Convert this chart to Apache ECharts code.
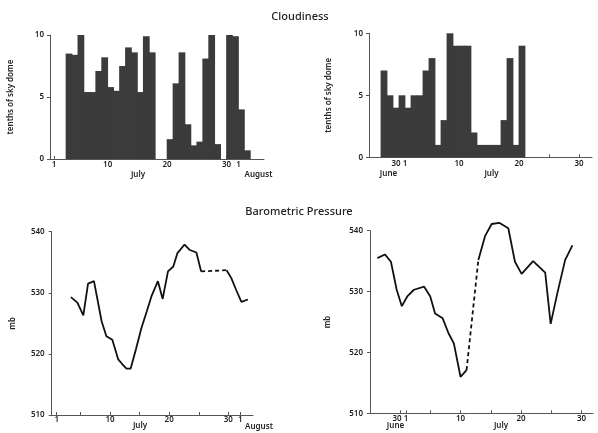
<!DOCTYPE html>
<html><head><meta charset="utf-8">
<script src="https://cdn.jsdelivr.net/npm/echarts@6/dist/echarts.min.js"></script>
<style>html,body{margin:0;padding:0;background:#fff}#c{width:598px;height:433px}</style>
</head><body><div id="c"></div>
<script>
// ---- data (x = day of July; June 30 = 0, June 29 = -1 ...; August 1 = 32) ----
const cloudLeftDays   = [3,4,5,6,7,8,9,10,11,12,13,14,15,16,17, 20,21,22,23,24,25,26,27,28, 30,31,32,33];
const cloudLeftValues = [8.5,8.4,10,5.4,5.4,7.1,8.2,5.8,5.5,7.5,9.0,8.6,5.4,9.9,8.6, 1.6,6.1,8.6,2.8,1.1,1.4,8.1,10,1.2, 10,9.9,4.0,0.7];
const cloudRightDays   = [-3,-2,-1,0,1,2,3,4,5,6,7,8,9,10,11,12,13,14,15,16,17,18,19,20];
const cloudRightValues = [7,5,4,5,4,5,5,7,8,1,3,10,9,9,9,2,1,1,1,1,3,8,1,9];

const pressLeftDays   = [3.4,4.5,5.5,6.3,7.3,8.6,9.4,10.4,11.4,12.1,12.8,13.5,14.4,15.3,16.2,17.0,18.1,18.9,19.8,20.7,21.4,22.6,23.5,24.6,25.4,29.7,30.5,31.3,32.2,33.3];
const pressLeftValues = [529.3,528.4,526.3,531.5,531.9,525.3,522.9,522.3,519.1,518.3,517.6,517.6,520.8,524.2,526.9,529.4,531.9,529.0,533.5,534.3,536.5,537.9,537.0,536.6,533.5,533.7,532.4,530.5,528.5,528.9];
const pressLeftDashStart = 24;   // dashed segment from this point to the next
const pressRightDays   = [-3.75,-2.5,-1.5,-0.55,0.3,1.2,2.3,4.0,5.0,5.8,7.05,8.0,8.9,10.0,11.0,12.95,14.05,15.15,16.4,17.9,19.0,20.1,22.0,24.0,24.9,26.0,27.3,28.5];
const pressRightValues = [535.5,536.1,534.9,530.3,527.6,529.2,530.3,530.8,529.2,526.4,525.6,523.2,521.5,516.0,517.1,535.2,539.1,541.1,541.3,540.4,534.9,532.9,535.0,533.1,524.7,529.7,535.2,537.6];
const pressRightDashStart = 14;

const leftTickDays   = [1,5,10,15,20,25,30,32];
const leftLabelDays  = [1,10,20,30,32];
const leftLabelText  = ['1','10','20','30','1'];
const rightTickDays  = [0,1,5,10,15,20,25,30];
const rightLabelDays = [0,1,10,20,30];
const rightLabelText = ['30','1','10','20','30'];

const titles = ['Cloudiness', 'Barometric Pressure'];
const cloudAxisName = 'tenths of sky dome';
const pressAxisName = 'mb';

// ---- layout ----
const grids = [
  {left: 50,  top: 35,    width: 214, height: 124, xmin: 0.3,   xmax: 36.3},
  {left: 369, top: 33.3,  width: 223, height: 124, xmin: -5,    xmax: 32.17},
  {left: 51.7,top: 231.7, width: 201.3, height: 183.3, xmin: 0.16, xmax: 34.16},
  {left: 370, top: 230.7, width: 223, height: 182.6, xmin: -4.96, xmax: 31.9}
];
const FONT = 'Noto Sans';
const TXT = '#222';
const AX = '#555';

function xAxis(i, tickDays, labelDays, labelText, labelMargin) {
  const g = grids[i];
  return {
    type: 'value', gridIndex: i, min: g.xmin, max: g.xmax,
    axisLine: {show: true, onZero: false, lineStyle: {color: AX, width: 1}},
    axisTick: {show: true, inside: true, length: 3, customValues: tickDays, lineStyle: {color: AX}},
    axisLabel: {
      customValues: labelDays, margin: labelMargin, color: TXT, fontSize: 8, fontFamily: FONT, fontWeight: 600,
      formatter: v => {
        const k = labelDays.findIndex(d => Math.abs(d - v) < 1e-6);
        const t = k >= 0 ? labelText[k] : '';
        if (i % 2 === 1 && v === 0) return '{l|' + t + '}';
        return t;
      },
      rich: {l: {fontSize: 8, fontFamily: FONT, fontWeight: 600, color: TXT, padding: [0, 6, 0, 0]}}
    },
    splitLine: {show: false}
  };
}
function yAxis(i, min, max, interval, name, gap, margin) {
  return {
    type: 'value', gridIndex: i, min, max, interval,
    name, nameLocation: 'middle', nameGap: gap, nameRotate: 90,
    nameTextStyle: {color: TXT, fontSize: 8, fontFamily: FONT, fontWeight: 600},
    axisLine: {show: true, onZero: false, lineStyle: {color: AX, width: 1}},
    axisTick: {show: true, length: 3, lineStyle: {color: AX}},
    axisLabel: {color: TXT, fontSize: 8, fontFamily: FONT, fontWeight: 600, margin},
    splitLine: {show: false}
  };
}
function barSeries(i, days, vals) {
  const g = grids[i];
  const w = g.width / (g.xmax - g.xmin);
  return {
    type: 'bar', xAxisIndex: i, yAxisIndex: i, barWidth: w + 0.8,
    data: days.map((d, k) => [d + 0.5, vals[k]]),
    itemStyle: {color: '#3b3b3b'}, silent: true, animation: false
  };
}
function lineSeries(i, days, vals, dashStart) {
  const pts = days.map((d, k) => [d, vals[k]]);
  const base = {type: 'line', xAxisIndex: i, yAxisIndex: i, symbol: 'none', clip: false, animation: false,
    lineStyle: {color: '#111', width: 1.8}};
  return [
    Object.assign({}, base, {data: pts.slice(0, dashStart + 1)}),
    Object.assign({}, base, {data: pts.slice(dashStart, dashStart + 2), lineStyle: {color: '#111', width: 1.8, type: [4, 3]}}),
    Object.assign({}, base, {data: pts.slice(dashStart + 1)})
  ];
}
function txt(x, y, s, size) {
  return {type: 'text', x, y, style: {text: s, fill: TXT, font: '600 ' + (size || 8) + 'px "' + FONT + '"', textAlign: 'center', textVerticalAlign: 'middle'}};
}

const chart = echarts.init(document.getElementById('c'), null, {renderer: 'canvas'});
chart.setOption({
  animation: false,
  backgroundColor: '#fff',
  grid: grids.map(g => ({left: g.left, top: g.top, width: g.width, height: g.height})),
  xAxis: [
    xAxis(0, leftTickDays, leftLabelDays, leftLabelText, 2),
    xAxis(1, rightTickDays, rightLabelDays, rightLabelText, 2),
    xAxis(2, leftTickDays, leftLabelDays, leftLabelText, 1),
    xAxis(3, rightTickDays, rightLabelDays, rightLabelText, 1)
  ],
  yAxis: [
    yAxis(0, 0, 10, 5, cloudAxisName, 35, 6),
    yAxis(1, 0, 10, 5, cloudAxisName, 36, 6),
    yAxis(2, 510, 540, 10, pressAxisName, 35, 7),
    yAxis(3, 510, 540, 10, pressAxisName, 38, 7)
  ],
  series: [
    barSeries(0, cloudLeftDays, cloudLeftValues),
    barSeries(1, cloudRightDays, cloudRightValues),
    ...lineSeries(2, pressLeftDays, pressLeftValues, pressLeftDashStart),
    ...lineSeries(3, pressRightDays, pressRightValues, pressRightDashStart)
  ],
  graphic: [
    {type: 'text', x: 300, y: 17, style: {text: titles[0], fill: TXT, font: '500 11px "' + FONT + '"', textAlign: 'center', textVerticalAlign: 'middle'}},
    {type: 'text', x: 299, y: 212, style: {text: titles[1], fill: TXT, font: '500 11px "' + FONT + '"', textAlign: 'center', textVerticalAlign: 'middle'}},
    txt(138, 175, 'July'), txt(258.5, 175, 'August'),
    txt(388.5, 174, 'June'), txt(491.5, 174, 'July'),
    txt(140, 426, 'July'), txt(259, 427, 'August'),
    txt(395.5, 426, 'June'), txt(501, 426, 'July')
  ]
});
</script>
</body></html>
